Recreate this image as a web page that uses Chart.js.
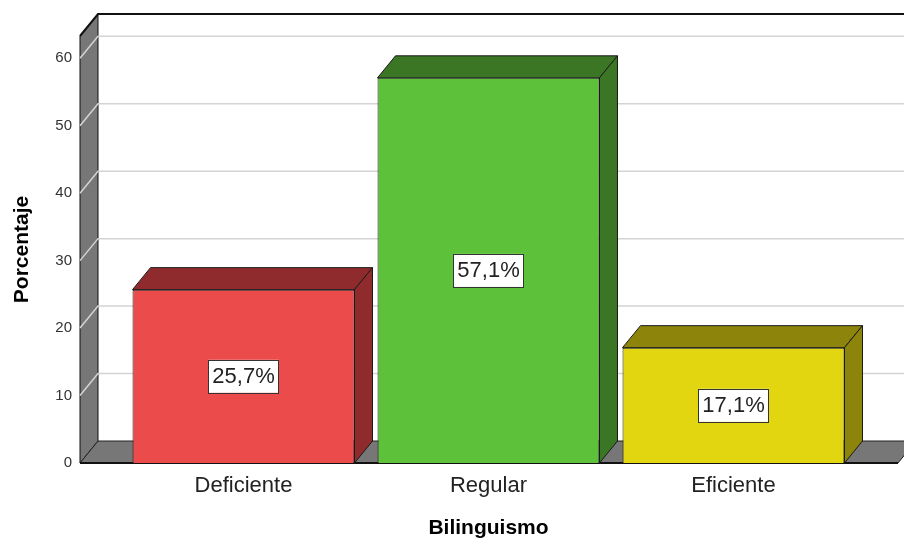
<!DOCTYPE html>
<html>
<head>
<meta charset="utf-8">
<script src="https://cdn.jsdelivr.net/npm/chart.js@4/dist/chart.umd.min.js"></script>
<style>
  html, body { margin: 0; padding: 0; background: #fff; }
  #wrap { width: 904px; height: 541px; }
</style>
</head>
<body>
<div id="wrap"><canvas id="grafico" width="904" height="541"></canvas></div>
<script>
const categorias = ['Deficiente', 'Regular', 'Eficiente'];
const porcentajes = [25.7, 57.1, 17.1];
const marcasY = [0, 10, 20, 30, 40, 50, 60];

const coresFrente = ['#ec4b4c', '#5dc23a', '#e2d611'];
const coresLado = ['#8f2b2d', '#3b7624', '#8c840b'];

// profundidade do efeito 3D
const DX = 18;
const DY = 22;

function formatarPct(v) {
    return v.toFixed(1).replace('.', ',') + '%';
}

function poligono(ctx, pts, fill, stroke, lw) {
    ctx.beginPath();
    ctx.moveTo(pts[0][0], pts[0][1]);
    for (let i = 1; i < pts.length; i++) ctx.lineTo(pts[i][0], pts[i][1]);
    ctx.closePath();
    if (fill) { ctx.fillStyle = fill; ctx.fill(); }
    if (stroke) { ctx.strokeStyle = stroke; ctx.lineWidth = lw || 1; ctx.stroke(); }
}

const fundo3d = {
    id: 'fundo3d',
    beforeDatasetsDraw(chart) {
        const { ctx, chartArea, scales } = chart;
        const y = scales.y;
        const x0 = chartArea.left - 41;
        const topo = chartArea.top;
        const base = chartArea.bottom;
        const direita = chart.width + DX;

        ctx.save();
        // parede lateral esquerda
        poligono(ctx, [[x0, base], [x0, topo], [x0 + DX, topo - DY], [x0 + DX, base - DY]], '#777777', '#111', 1);

        // linhas de grade (parede de fundo + diagonais na lateral)
        ctx.strokeStyle = '#d4d4d4';
        ctx.lineWidth = 1.5;
        for (const v of marcasY) {
            if (v === 0) continue;
            const py = y.getPixelForValue(v);
            ctx.beginPath();
            ctx.moveTo(x0, py);
            ctx.lineTo(x0 + DX, py - DY);
            ctx.lineTo(direita, py - DY);
            ctx.stroke();
        }

        // borda superior da parede de fundo
        ctx.strokeStyle = '#111';
        ctx.lineWidth = 2;
        ctx.beginPath();
        ctx.moveTo(x0, topo);
        ctx.lineTo(x0 + DX, topo - DY);
        ctx.lineTo(direita, topo - DY);
        ctx.stroke();

        // piso
        const xf = chart.width - 6;
        poligono(ctx, [[x0, base], [x0 + DX, base - DY], [xf + DX, base - DY], [xf, base]], '#777777', '#222', 1);
        ctx.strokeStyle = '#111';
        ctx.lineWidth = 2;
        ctx.beginPath();
        ctx.moveTo(x0, base);
        ctx.lineTo(xf, base);
        ctx.stroke();

        // faces superior e lateral das barras
        const meta = chart.getDatasetMeta(0);
        meta.data.forEach((bar, i) => {
            const l = bar.x - bar.width / 2;
            const r = bar.x + bar.width / 2;
            const t = bar.y;
            const b = bar.base;
            poligono(ctx, [[l, t], [l + DX, t - DY], [r + DX, t - DY], [r, t]], coresLado[i], '#1a1a1a', 1);
            poligono(ctx, [[r, t], [r + DX, t - DY], [r + DX, b - DY], [r, b]], coresLado[i], '#1a1a1a', 1);
        });
        ctx.restore();
    },
    afterDatasetsDraw(chart) {
        const { ctx } = chart;
        const meta = chart.getDatasetMeta(0);
        ctx.save();
        ctx.font = '22px "Liberation Sans", Arial, sans-serif';
        ctx.textAlign = 'center';
        ctx.textBaseline = 'middle';
        meta.data.forEach((bar, i) => {
            const txt = formatarPct(porcentajes[i]);
            const w = ctx.measureText(txt).width + 8;
            const h = 33;
            const cy = (bar.y + bar.base) / 2;
            ctx.fillStyle = '#ffffff';
            ctx.fillRect(bar.x - w / 2, cy - h / 2, w, h);
            ctx.strokeStyle = '#333';
            ctx.lineWidth = 1;
            ctx.strokeRect(Math.round(bar.x - w / 2) + 0.5, Math.round(cy - h / 2) + 0.5, Math.round(w), h);
            ctx.fillStyle = '#222';
            ctx.fillText(txt, bar.x, cy + 1);
        });
        ctx.restore();
    }
};

new Chart(document.getElementById('grafico'), {
    type: 'bar',
    data: {
        labels: categorias,
        datasets: [{
            data: porcentajes,
            backgroundColor: coresFrente,
            borderColor: '#1a1a1a',
            borderWidth: 1,
            categoryPercentage: 1,
            barPercentage: 0.906
        }]
    },
    options: {
        responsive: false,
        animation: false,
        layout: { padding: { top: 36, right: 48, left: 0, bottom: 0 } },
        plugins: {
            legend: { display: false },
            tooltip: { enabled: false }
        },
        scales: {
            x: {
                grid: { display: false, drawTicks: false },
                border: { display: false },
                ticks: {
                    padding: 10,
                    color: '#222',
                    font: { family: '"Liberation Sans", Arial, sans-serif', size: 22 }
                },
                title: {
                    display: true,
                    text: 'Bilinguismo',
                    color: '#000',
                    padding: { top: 0, bottom: 0 },
                    font: { family: '"Liberation Sans", Arial, sans-serif', size: 21, weight: 'bold' }
                },
                afterFit(scale) { scale.height = 78; }
            },
            y: {
                min: 0,
                max: 63.3,
                grid: { display: false, drawTicks: false },
                border: { display: false },
                ticks: {
                    stepSize: 10,
                    includeBounds: false,
                    padding: 49,
                    color: '#333',
                    font: { family: '"Liberation Sans", Arial, sans-serif', size: 15 }
                },
                title: {
                    display: true,
                    text: 'Porcentaje',
                    color: '#000',
                    padding: { top: 10, bottom: 0 },
                    font: { family: '"Liberation Sans", Arial, sans-serif', size: 21, weight: 'bold' }
                },
                afterFit(scale) {
                    // o padding dos ticks nao deve empurrar a area do grafico
                    scale.width = 121;
                    scale.paddingTop = 0;
                    scale.paddingBottom = 0;
                }
            }
        }
    },
    plugins: [fundo3d]
});
</script>
</body>
</html>
